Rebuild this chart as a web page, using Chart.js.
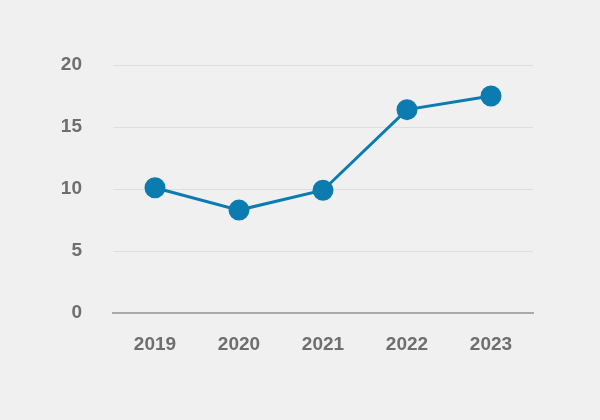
<!DOCTYPE html>
<html><head><meta charset="utf-8">
<script src="https://cdn.jsdelivr.net/npm/chart.js@4/dist/chart.umd.min.js"></script>
<style>html,body{margin:0;background:#f0f0f0}#w{width:600px;height:420px}</style>
</head><body><div id="w"><canvas id="c"></canvas></div>
<script>
const years = ["2019","2020","2021","2022","2023"];
const values = [10.1, 8.3, 9.9, 16.4, 17.5];
const yTicks = [0,5,10,15,20];
const font = {family:"'Liberation Sans Narrow','Liberation Sans',Arial,sans-serif",size:19,weight:'bold'};
new Chart(document.getElementById('c'),{
  type:'line',
  data:{labels:years,datasets:[{data:values,borderColor:'#0b7bb0',backgroundColor:'#0b7bb0',borderWidth:3,pointRadius:9,pointHoverRadius:9,tension:0}]},
  options:{responsive:true,maintainAspectRatio:false,animation:false,
    layout:{padding:{top:65,right:67,left:0,bottom:0}},
    plugins:{legend:{display:false},tooltip:{enabled:false}},
    scales:{
      x:{offset:true,afterFit:s=>{s.height=107},grid:{display:false,drawTicks:false},border:{color:'#aaaaaa',width:2},
         ticks:{color:'#6e6e6e',font,padding:20}},
      y:{min:0,max:20,afterFit:s=>{s.width=113},afterBuildTicks:s=>{s.ticks=yTicks.map(v=>({value:v}))},
         grid:{color:'#dedede',drawTicks:false},border:{display:false},
         ticks:{color:'#6e6e6e',font,padding:31}}
    }}
});
</script></body></html>
